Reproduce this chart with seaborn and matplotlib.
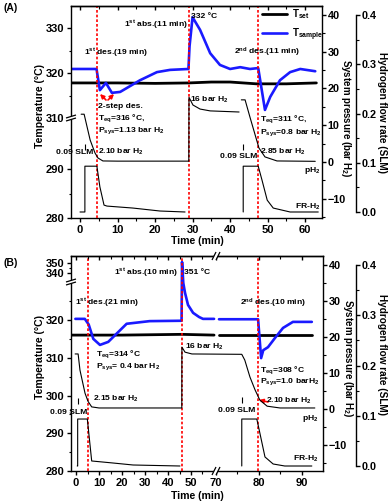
import numpy as np
import matplotlib
matplotlib.use("Agg")
import matplotlib.pyplot as plt
import seaborn as sns
from matplotlib.ticker import FixedLocator
from matplotlib.lines import Line2D

# ---------------- data: panel A ----------------
a_tset_t = [-2.3, 10, 20, 29, 35, 40, 47, 55, 63]
a_tset_v = [317.8, 317.8, 317.7, 317.8, 318.0, 318.0, 317.6, 317.6, 317.8]
a_tsam_t = [-2.3, 4.4, 5.3, 6.9, 8.5, 10.7, 16, 20.5, 24, 28.9, 29.2, 30.0, 32, 34.7,
            37.3, 40, 42.7, 45.3, 47.5, 49.3, 50.7, 53.3, 56, 58.7, 62.7]
a_tsam_v = [320.9, 320.9, 316.2, 317.8, 315.6, 315.8, 318.4, 320.2, 320.7, 320.9, 326.0, 332.4,
            329.6, 324.4, 321.8, 320.9, 321.3, 320.9, 321.1, 311.8, 314.7, 318.4, 320.2, 320.9, 320.4]
a_p1_t = [0.3, 1.1, 2.7, 4.0, 4.8, 6.1, 10, 29, 29.05, 30.1, 32, 34.7, 42.4]
a_p1_v = [13.0, 13.0, 6.0, 2.45, 1.1, 0.3, 0.25, 0.25, 17.6, 15.5, 14.4, 13.9, 13.6]
a_p2_t = [43.0, 44.0, 45.3, 46.7, 47.7, 49.3, 52.5, 62.7]
a_p2_v = [16.9, 16.9, 12.2, 7.3, 3.8, 1.4, 0.3, 0.2]
a_f1_t = [0, 1.3, 1.3, 4.5, 5.3, 6.4, 7.2, 14.1, 21.3, 28]
a_f1_v = [0, 0, 0.093, 0.093, 0.051, 0.014, 0.012, 0.008, 0.002, 0]
a_f2_t = [43.5, 43.5, 47.5, 48.5, 49.9, 51.5, 56, 63.5]
a_f2_v = [0, 0.093, 0.093, 0.065, 0.024, 0.008, 0.0, 0.0]
a_events = [4.5, 29.0, 47.5]

# ---------------- data: panel B ----------------
b_tset1_t = [-2.2, 20, 46, 60.4]
b_tset1_v = [316.0, 316.0, 316.2, 316.0]
b_tset2_t = [70.7, 80, 92.3]
b_tset2_v = [316.0, 316.0, 316.0]
b_tsam1_t = [-0.3, 3.8, 5.5, 7.5, 10.4, 14, 17, 22, 32, 45.9, 46.1, 46.65, 47.4, 48.7,
             50.9, 53.5, 55.2, 60.4]
b_tsam1_v = [320.3, 320.3, 318.8, 315.0, 313.4, 314.2, 316.0, 319.0, 319.7, 319.8, 351.0,
             329.8, 327.2, 324.0, 321.9, 320.8, 320.3, 320.3]
b_tsam2_t = [70.7, 79.8, 80.5, 81.0, 82.1, 83.7, 85.6, 87.9, 92.3]
b_tsam2_v = [320.2, 320.2, 309.9, 312.0, 312.8, 315.2, 317.9, 319.5, 319.5]
b_p_t = [-0.4, 0.9, 1.7, 3.9, 5.2, 6.8, 10, 46.0, 46.05, 47.4, 50.4, 76.0, 76.7, 77.9,
         79.1, 80.2, 81.9, 84.9, 93.0]
b_p_v = [15.3, 15.3, 10.8, 4.4, 2.15, 0.6, 0.3, 0.3, 17.2, 15.8, 15.3, 15.2, 13.6, 8.9,
         5.3, 2.5, 0.8, 0.3, 0.3]
b_f1_t = [0.5, 0.7, 0.7, 4.9, 6.8, 16, 24.8, 45.2]
b_f1_v = [0, 0, 0.0935, 0.0935, 0.01, 0.006, 0.002, 0]
b_f2_t = [76.0, 76.0, 79.5, 80.2, 81.4, 83.3, 86, 92.3]
b_f2_v = [0, 0.0935, 0.0935, 0.066, 0.018, 0.004, 0, 0]
b_events = [5.2, 46.0, 79.8]

# ---------------- style ----------------
sns.set_style("ticks")
plt.rcParams.update({
    "font.family": ["Liberation Sans", "DejaVu Sans"],
    "font.weight": "bold",
    "axes.labelweight": "bold",
    "mathtext.fontset": "custom",
    "mathtext.rm": "Liberation Sans:bold",
    "mathtext.it": "Liberation Sans:bold",
    "mathtext.bf": "Liberation Sans:bold",
    "mathtext.sf": "Liberation Sans:bold",
    "mathtext.default": "rm",
    "axes.linewidth": 1.0,
    "axes.edgecolor": "black",
    "xtick.color": "black", "ytick.color": "black",
    "xtick.major.width": 1.0, "ytick.major.width": 1.0,
    "xtick.minor.width": 0.8, "ytick.minor.width": 0.8,
    "xtick.major.size": 3.2, "ytick.major.size": 3.2,
    "xtick.minor.size": 1.8, "ytick.minor.size": 1.8,
    "text.color": "black",
})

W, H = 388, 504
fig = plt.figure(figsize=(W / 100, H / 100), dpi=100)
fig.patch.set_facecolor("white")
ANN = 6.1


def frect(l, t, r, b):
    return [l / W, 1 - b / H, (r - l) / W, (b - t) / H]


def ftext(x, y, s, size=ANN, ha="left", va="center", rot=0, color="black"):
    fig.text(x / W, 1 - y / H, s, fontsize=size, ha=ha, va=va, rotation=rot,
             color=color, fontweight="bold")


def fline(xs, ys, color="black", lw=0.8, z=20):
    fig.add_artist(Line2D([x / W for x in xs], [1 - y / H for y in ys], color=color,
                          lw=lw, zorder=z, solid_capstyle="butt"))


def farrow(x0, y0, x1, y1):
    fig.axes[0].annotate("", xy=(x1 / W, 1 - y1 / H), xytext=(x0 / W, 1 - y0 / H),
                         xycoords="figure fraction", textcoords="figure fraction",
                         arrowprops=dict(arrowstyle="-|>", color="red", lw=1.2,
                                         mutation_scale=6, shrinkA=0, shrinkB=0))


def ybreak(x, y):
    fline([x - 5, x + 5], [y + 1.5, y - 1.5], color="white", lw=2.0, z=21)
    fline([x - 5, x + 5], [y + 3, y], lw=0.9, z=22)
    fline([x - 5, x + 5], [y, y - 3], lw=0.9, z=22)


def xbreak(x, y):
    fline([x - 1, x + 3], [y + 4, y - 4], color="white", lw=2.2, z=21)
    fline([x - 3, x + 1], [y + 4, y - 4], lw=0.9, z=22)
    fline([x + 1, x + 5], [y + 4, y - 4], lw=0.9, z=22)


def line(ax, t, v, color="black", lw=0.8, label=None):
    sns.lineplot(x=np.asarray(t, float), y=np.asarray(v, float), ax=ax, color=color,
                 linewidth=lw, estimator=None, sort=False, legend=False, label=label)


def piecewise(xp, fp):
    xp = np.asarray(xp, float)
    fp = np.asarray(fp, float)
    return (lambda v: np.interp(v, xp, fp), lambda p: np.interp(p, fp, xp))


def make_panel(rect):
    ax = fig.add_axes(rect)
    axp = ax.twinx()
    axf = ax.twinx()
    for a in (ax, axp, axf):
        a.set_facecolor("none")
        a.grid(False)
    return ax, axp, axf


def finish_panel(ax, axp, axf, xlim, xmaj, xmin, tlim, tmaj, tmin, plim, flim, flow_pos):
    ax.set_xlim(*xlim)
    ax.set_ylim(*tlim)
    ax.xaxis.set_major_locator(FixedLocator(xmaj))
    ax.xaxis.set_minor_locator(FixedLocator(xmin))
    ax.yaxis.set_major_locator(FixedLocator(tmaj))
    ax.yaxis.set_minor_locator(FixedLocator(tmin))
    ax.tick_params(axis="x", which="both", direction="out", bottom=True, top=False,
                   labelsize=8, pad=1.5)
    ax.tick_params(axis="y", which="both", direction="out", left=True, right=False,
                   labelsize=8, pad=1.5)
    ax.spines["right"].set_visible(False)
    ax.set_xlabel("")
    ax.set_ylabel("")

    axp.set_ylim(*plim)
    axp.yaxis.set_major_locator(FixedLocator([-10, 0, 10, 20, 30, 40]))
    axp.yaxis.set_minor_locator(FixedLocator([-15, -5, 5, 15, 25, 35]))
    axp.tick_params(axis="y", which="both", direction="out", right=True, left=False,
                    labelright=True, labelleft=False, labelsize=7.8, pad=1.0)
    axp.xaxis.set_visible(True)
    axp.tick_params(axis="x", which="both", direction="in", top=True, bottom=False,
                    labeltop=False, labelbottom=False)
    for s in ("left", "bottom"):
        axp.spines[s].set_visible(False)
    axp.set_ylabel("")

    axf.set_ylim(*flim)
    axf.spines["right"].set_position(("axes", flow_pos))
    axf.spines["right"].set_bounds(0, 0.4)
    for s in ("left", "bottom", "top"):
        axf.spines[s].set_visible(False)
    axf.yaxis.set_major_locator(FixedLocator([0.0, 0.1, 0.2, 0.3, 0.4]))
    axf.yaxis.set_minor_locator(FixedLocator([0.05, 0.15, 0.25, 0.35]))
    axf.tick_params(axis="y", which="both", direction="out", right=True, left=False,
                    labelright=True, labelleft=False, labelsize=7.8, pad=1.0)
    axf.set_ylabel("")


BLUE = "#1a1aff"
RED = "#ff0000"

# ================= Panel A =================
axA, axAp, axAf = make_panel(frect(71, 6, 322, 218))
line(axA, a_tset_t, a_tset_v, "black", 2.0, "T$_{set}$")
line(axA, a_tsam_t, a_tsam_v, BLUE, 1.9, "T$_{sample}$")
for e in a_events:
    axA.axvline(e, color=RED, lw=1.2, ls=(0, (1.6, 1.2)), zorder=5)
line(axAp, a_p1_t, a_p1_v, "black", 0.8)
line(axAp, a_p2_t, a_p2_v, "black", 0.8)
line(axAf, a_f1_t, a_f1_v, "black", 0.8)
line(axAf, a_f2_t, a_f2_v, "black", 0.8)

tA_f, tA_i = piecewise([200, 280, 300, 310, 400], [-392, 0, 98, 100, 505])
axA.set_yscale("function", functions=(tA_f, tA_i))
finish_panel(axA, axAp, axAf, (-2.4, 64.5), list(range(0, 61, 10)),
             list(range(5, 66, 10)), (280, 334.9), [280, 290, 310, 320, 330],
             [285, 295, 315, 325], (-15.2, 42.4), (-0.0122, 0.4183), 1.1355)
axA.legend(loc="upper left", bbox_to_anchor=((262 - 71) / 251, (218 - 7) / 212),
           frameon=False, fontsize=7, handlelength=2.6, handletextpad=0.5,
           labelspacing=0.55, borderaxespad=0, borderpad=0)

# ================= Panel B =================
axB, axBp, axBf = make_panel(frect(71, 256, 323, 471))
line(axB, b_tset1_t, b_tset1_v, "black", 2.0)
line(axB, b_tset2_t, b_tset2_v, "black", 2.0)
line(axB, b_tsam1_t, b_tsam1_v, BLUE, 1.9)
line(axB, b_tsam2_t, b_tsam2_v, BLUE, 1.9)
for e in b_events:
    axB.axvline(e, color=RED, lw=1.2, ls=(0, (1.6, 1.2)), zorder=5)
line(axBp, b_p_t, b_p_v, "black", 0.8)
line(axBf, b_f1_t, b_f1_v, "black", 0.8)
line(axBf, b_f2_t, b_f2_v, "black", 0.8)

tB_f, tB_i = piecewise([200, 280, 330, 340, 450], [-302, 0, 188.75, 198, 308])
xB_f, xB_i = piecewise([-100, 60, 70, 200], [-230, 138, 140, 699])
axB.set_yscale("function", functions=(tB_f, tB_i))
axB.set_xscale("function", functions=(xB_f, xB_i))
finish_panel(axB, axBp, axBf, (-2.2, 94.9), [0, 10, 20, 30, 40, 50, 70, 80, 90],
             [5, 15, 25, 35, 45, 55, 75, 85], (280, 357),
             [280, 290, 300, 310, 320, 340, 350], [285, 295, 305, 315, 325, 345],
             (-17.2, 42.5), (-0.00995, 0.418), 1.131)

# ---------------- axis labels ----------------
for yc_t, yc_p, yc_f, yt, xp in ((106, 118, 112, 241, 346), (357, 358, 355, 496, 348)):
    ftext(40, yc_t, "Temperature (°C)", size=7.6, ha="center", rot=90)
    ftext(xp, yc_p, "System pressure (bar H$_2$)", size=7.0, ha="center", rot=270)
    ftext(382, yc_f, "Hydrogen flow rate (SLM)", size=7.2, ha="center", rot=270)
    ftext(197, yt, "Time (min)", size=7.6, ha="center")

# ---------------- breaks ----------------
ybreak(71, 118)
ybreak(71, 282)
xbreak(215, 471)
xbreak(215, 256)

# ---------------- annotations panel A ----------------
ftext(3, 8, "(A)", size=7.5)
ftext(84, 53, "1$^{st}$ des.(19 min)")
ftext(124, 25, "1$^{st}$ abs.(11 min)")
ftext(191, 17, "332 °C")
ftext(234, 52, "2$^{nd}$ des.(11 min)")
ftext(98, 106, "2-step des.")
ftext(98, 118, "T$_{eq}$=316 °C,")
ftext(98, 131, "P$_{sys}$=1.13 bar H$_2$")
ftext(98, 152, "2.10 bar H$_2$")
ftext(93, 153, "0.09 SLM", ha="right")
ftext(190, 100, "16 bar H$_2$")
ftext(260, 119, "T$_{eq}$=311 °C,")
ftext(260, 133, "P$_{sys}$=0.8 bar H$_2$")
ftext(260, 152, "2.85 bar H$_2$")
ftext(257, 157, "0.09 SLM", ha="right")
ftext(320, 170, "pH$_2$", ha="right")
ftext(320, 207, "FR-H$_2$", ha="right")
fline([85, 85], [144, 150])
fline([243, 243], [144, 150])
farrow(106, 100, 100, 94)
farrow(108, 100, 114, 94)

# ---------------- annotations panel B ----------------
ftext(3, 263, "(B)", size=7.5)
ftext(75, 303, "1$^{st}$ des.(21 min)")
ftext(114, 273, "1$^{st}$ abs.(10 min)")
ftext(184, 273, "351 °C")
ftext(240, 303, "2$^{nd}$ des.(10 min)")
ftext(96, 354, "T$_{eq}$=314 °C")
ftext(96, 367, "P$_{sys}$= 0.4 bar H$_2$")
ftext(93, 399, "2.15 bar H$_2$")
ftext(87, 412, "0.09 SLM", ha="right")
ftext(185, 347, "16 bar H$_2$")
ftext(260, 370, "T$_{eq}$=308 °C")
ftext(260, 382, "P$_{sys}$=1.0 barH$_2$")
ftext(266, 401, "2.10 bar H$_2$")
ftext(255, 410, "0.09 SLM", ha="right")
ftext(318, 419, "pH$_2$", ha="right")
ftext(318, 459, "FR-H$_2$", ha="right")
fline([78, 78], [398, 404])
fline([242, 242], [397, 403])
farrow(268, 402, 259, 400)

fig.savefig("out.png", dpi=100, facecolor="white")
